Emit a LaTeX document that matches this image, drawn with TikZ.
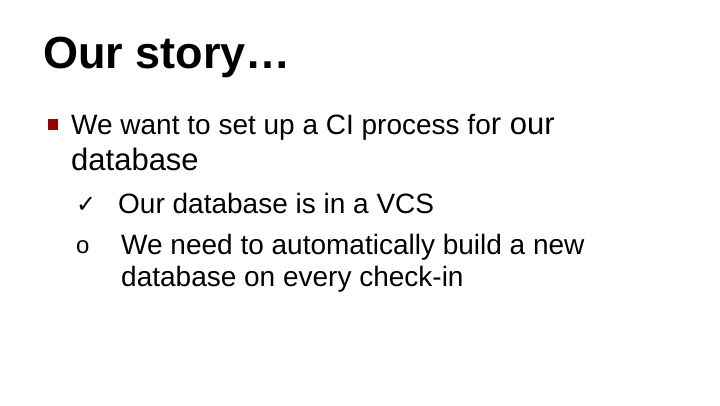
\documentclass[tikz,border=0pt]{standalone}
\usepackage{fontspec}
\setmainfont{Liberation Sans}
\newfontfamily\dvs{DejaVu Sans}
\begin{document}
\begin{tikzpicture}[x=1pt,y=-1pt,txt/.style={anchor=base west,inner sep=0pt,text=black}]
\useasboundingbox (0,0) rectangle (720,405);
\fill[white] (0,0) rectangle (720,405);
\node[txt,font=\fontsize{45}{45}\selectfont\bfseries] (title) at (43,68) {Our story…};
\fill[red!60!black] (48,119) rectangle (58,130);
\node[txt,font=\fontsize{28}{28}\selectfont] (l1) at (71,134) {We want to set up a CI process fo\fontsize{31}{31}\selectfont r our};
\node[txt,font=\fontsize{31}{31}\selectfont] (l2) at (71,170) {database};
\node[txt,font=\fontsize{24}{24}\dvs\bfseries] (ck) at (76,212) {✓};
\node[txt,font=\fontsize{28}{28}\selectfont] (l3) at (118,213) {Our database is in a VCS};
\node[txt,font=\fontsize{24}{24}\selectfont] (o) at (76,253) {o};
\node[txt,font=\fontsize{28}{28}\selectfont] (l4) at (121,254) {We need to automatically build a new};
\node[txt,font=\fontsize{28}{28}\selectfont] (l5) at (121,286) {database on every check-in};
\end{tikzpicture}
\end{document}
